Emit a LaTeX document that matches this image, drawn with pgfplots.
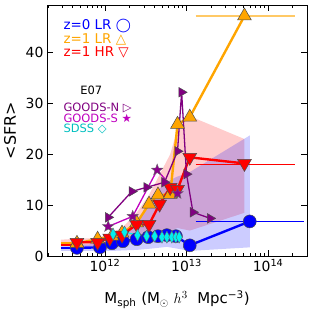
\documentclass[border=0pt]{standalone}
\usepackage{pgfplots}
\pgfplotsset{compat=1.18}
\usepackage{fontspec}
\setmainfont{DejaVu Sans}
\usetikzlibrary{calc}
\definecolor{cblue}{HTML}{0000FF}
\definecolor{corange}{HTML}{FFA500}
\definecolor{cred}{HTML}{FF0000}
\definecolor{cpurple}{HTML}{800080}
\definecolor{cmag}{HTML}{BF00BF}
\definecolor{ctext}{HTML}{00BFBF}
\definecolor{cdiam}{HTML}{00F0F0}
\pgfdeclareplotmark{fstar}{%
  \pgfpathmoveto{\pgfpointpolar{90}{\pgfplotmarksize}}%
  \pgfpathlineto{\pgfpointpolar{126}{0.42\pgfplotmarksize}}%
  \pgfpathlineto{\pgfpointpolar{162}{\pgfplotmarksize}}%
  \pgfpathlineto{\pgfpointpolar{198}{0.42\pgfplotmarksize}}%
  \pgfpathlineto{\pgfpointpolar{234}{\pgfplotmarksize}}%
  \pgfpathlineto{\pgfpointpolar{270}{0.42\pgfplotmarksize}}%
  \pgfpathlineto{\pgfpointpolar{306}{\pgfplotmarksize}}%
  \pgfpathlineto{\pgfpointpolar{342}{0.42\pgfplotmarksize}}%
  \pgfpathlineto{\pgfpointpolar{18}{\pgfplotmarksize}}%
  \pgfpathlineto{\pgfpointpolar{54}{0.42\pgfplotmarksize}}%
  \pgfpathclose
  \pgfusepathqfillstroke}
\begin{document}
\begin{tikzpicture}
\begin{axis}[name=ax, scale only axis, width=260bp, height=250.7bp,
  xmode=log, xmin=1.95e11, xmax=3.0e14, ymin=0, ymax=49.3,
  xtick={1e12,1e13,1e14},
  xticklabels={10\textsuperscript{12},10\textsuperscript{13},10\textsuperscript{14}},
  minor xtick={2e11,3e11,4e11,5e11,6e11,7e11,8e11,9e11,2e12,3e12,4e12,5e12,6e12,7e12,8e12,9e12,2e13,3e13,4e13,5e13,6e13,7e13,8e13,9e13,2e14},
  ytick={0,10,20,30,40},
  /pgf/number format/assume math mode=true,
  tick align=inside, major tick length=6bp, minor tick length=3bp,
  every tick/.style={black, line width=0.6pt},
  axis line style={black, line width=0.8pt},
  tick label style={font=\fontsize{14}{16}\selectfont},
  xlabel={M$_{\mathrm{sph}}$ (M$_{\odot}$ $h^3$\ \ Mpc\textsuperscript{−3})},
  ylabel={<SFR>},
  every axis x label/.style={at={(axis description cs:0.5,0)}, yshift=-44bp, anchor=center, font=\fontsize{15}{17}\selectfont},
  every axis y label/.style={at={(axis description cs:0,0.5)}, xshift=-37bp, anchor=center, rotate=90, font=\fontsize{16}{18}\selectfont},
  clip=true,
]
% bands
\addplot[draw=none, fill=cred, fill opacity=0.2] coordinates {
 (2.88e11,3.2) (4.54e11,3.4) (8.13e11,3.5) (1.148e12,4.5) (1.62e12,5.5) (2.45e12,8.5) (3.47e12,12) (4.68e12,16) (6.31e12,20) (7.76e12,25) (1.096e13,27.5) (5.13e13,23)
 (5.13e13,8.5) (1.096e13,5) (7.76e12,5.5) (6.31e12,5) (4.68e12,4) (3.47e12,3.2) (2.45e12,2.8) (1.62e12,2.4) (1.148e12,2.2) (8.13e11,2.0) (4.54e11,2.0) (2.88e11,2.0)} -- cycle;
\addplot[draw=none, fill=cblue, fill opacity=0.2] coordinates {
 (2.88e11,2.0) (4.54e11,2.2) (8.7e11,2.4) (1.22e12,3.2) (1.66e12,3.8) (2.45e12,6) (3.39e12,11) (4.47e12,13) (5.75e12,14.5) (7.41e12,15.5) (1.096e13,16.5) (5.96e13,23.7)
 (5.96e13,1.7) (1.096e13,1.0) (7.41e12,1.5) (5.75e12,1.8) (4.47e12,1.6) (3.39e12,1.4) (2.45e12,1.2) (1.66e12,1.1) (1.22e12,1.0) (8.7e11,1.0) (4.54e11,1.0) (2.88e11,1.0)} -- cycle;
% lead-in segments
\addplot[cblue, line width=2.4pt, no markers] coordinates {(2.88e11,1.6) (4.54e11,1.6)};
\addplot[corange, line width=2.4pt, no markers] coordinates {(2.88e11,2.5) (4.54e11,2.5)};
\addplot[cred, line width=2.4pt, no markers] coordinates {(2.88e11,2.2) (4.54e11,2.2)};
% error bars of last points
\addplot[cblue, line width=1.6pt, no markers] coordinates {(1.29e13,6.8) (2.75e14,6.8)};
\addplot[corange, opacity=0.6, line width=1.6pt, no markers] coordinates {(1.29e13,47.2) (2.14e14,47.2)};
\addplot[cred, line width=1.4pt, no markers] coordinates {(1.29e13,18.0) (2.14e14,18.0)};
% z=0 LR
\addplot[cblue, line width=2.4pt, mark=*, mark size=6.5bp, mark options={fill=cblue, draw=black!70, line width=0.5pt}] coordinates {
 (4.54e11,1.6) (8.7e11,1.7) (1.22e12,2.5) (1.66e12,2.9) (2.45e12,3.3) (3.39e12,3.7) (4.47e12,3.9) (5.75e12,4.1) (7.41e12,3.9) (1.096e13,2.1) (5.96e13,6.8)};
% z=1 LR
\addplot[corange, line width=2.4pt, mark=triangle*, mark size=8bp, mark options={fill=corange, draw=black!70, line width=0.5pt}] coordinates {
 (4.54e11,2.5) (8.13e11,3.3) (1.22e12,3.9) (1.62e12,4.5) (2.45e12,6.5) (3.47e12,10.2) (4.47e12,12.0) (6.31e12,12.1) (7.76e12,25.9) (1.096e13,27.3) (5.13e13,47.2)};
% z=1 HR
\addplot[cred, line width=2.4pt, mark=triangle*, mark size=8bp, mark options={fill=cred, draw=black!70, line width=0.5pt, rotate=180}] coordinates {
 (4.54e11,2.7) (8.13e11,2.7) (1.148e12,3.5) (1.62e12,4.1) (2.45e12,6.2) (3.47e12,6.2) (4.68e12,10.2) (6.31e12,13.5) (7.76e12,13.1) (1.096e13,19.4) (5.13e13,18.2)};
% GOODS-N
\addplot[cpurple, line width=1.3pt, mark=triangle*, mark size=5.5bp, mark options={fill=cpurple, draw=black!70, line width=0.5pt, rotate=-90}] coordinates {
 (1.096e12,7.6) (2.14e12,12.7) (3.24e12,13.5) (5.37e12,14.5) (7.76e12,20.6) (8.71e12,32.2) (1.0e13,16.1) (1.20e13,8.6) (1.95e13,7.4)};
% GOODS-S
\addplot[cmag, line width=1.3pt, mark=fstar, mark size=6bp, mark options={fill=cpurple!80!cmag, draw=black!60, line width=0.4pt}] coordinates {
 (1.096e12,5.8) (2.19e12,7.8) (4.37e12,16.9) (7.76e12,12.3)};
% SDSS
\addplot[cdiam, line width=1.2pt, mark=diamond*, mark size=6bp, mark options={fill=cdiam, draw=black!60, line width=0.4pt, xscale=0.7}] coordinates {
 (1.26e12,4.3) (1.74e12,4.7) (2.51e12,4.1) (3.24e12,3.9) (4.07e12,3.9) (5.01e12,3.7) (5.75e12,3.7) (6.61e12,3.7) (7.41e12,3.7) (8.13e12,3.7)};
% legend text
\node[anchor=base west, text=cblue, font=\fontsize{13.5}{15}\selectfont] at (axis description cs:0.05,0.9015) {z=0 LR ◯};
\node[anchor=base west, text=corange, font=\fontsize{13.5}{15}\selectfont] at (axis description cs:0.05,0.8484) {z=1 LR △};
\node[anchor=base west, text=cred, font=\fontsize{13.5}{15}\selectfont] at (axis description cs:0.05,0.7966) {z=1 HR ▽};
\node[anchor=base west, text=black, font=\fontsize{11.5}{13}\selectfont] at (axis description cs:0.115,0.643) {E07};
\node[anchor=base west, text=cpurple, font=\fontsize{11.5}{13}\selectfont] at (axis description cs:0.05,0.5772) {GOODS-N ▷};
\node[anchor=base west, text=cmag, font=\fontsize{11.5}{13}\selectfont] at (axis description cs:0.05,0.5333) {GOODS-S ★};
\node[anchor=base west, text=ctext, font=\fontsize{11.5}{13}\selectfont] at (axis description cs:0.05,0.4914) {SDSS ◇};
\end{axis}
\pgfresetboundingbox
\path ($(ax.south west)+(-47bp,-60bp)$) rectangle ($(ax.north east)+(8bp,5.3bp)$);
\end{tikzpicture}
\end{document}
